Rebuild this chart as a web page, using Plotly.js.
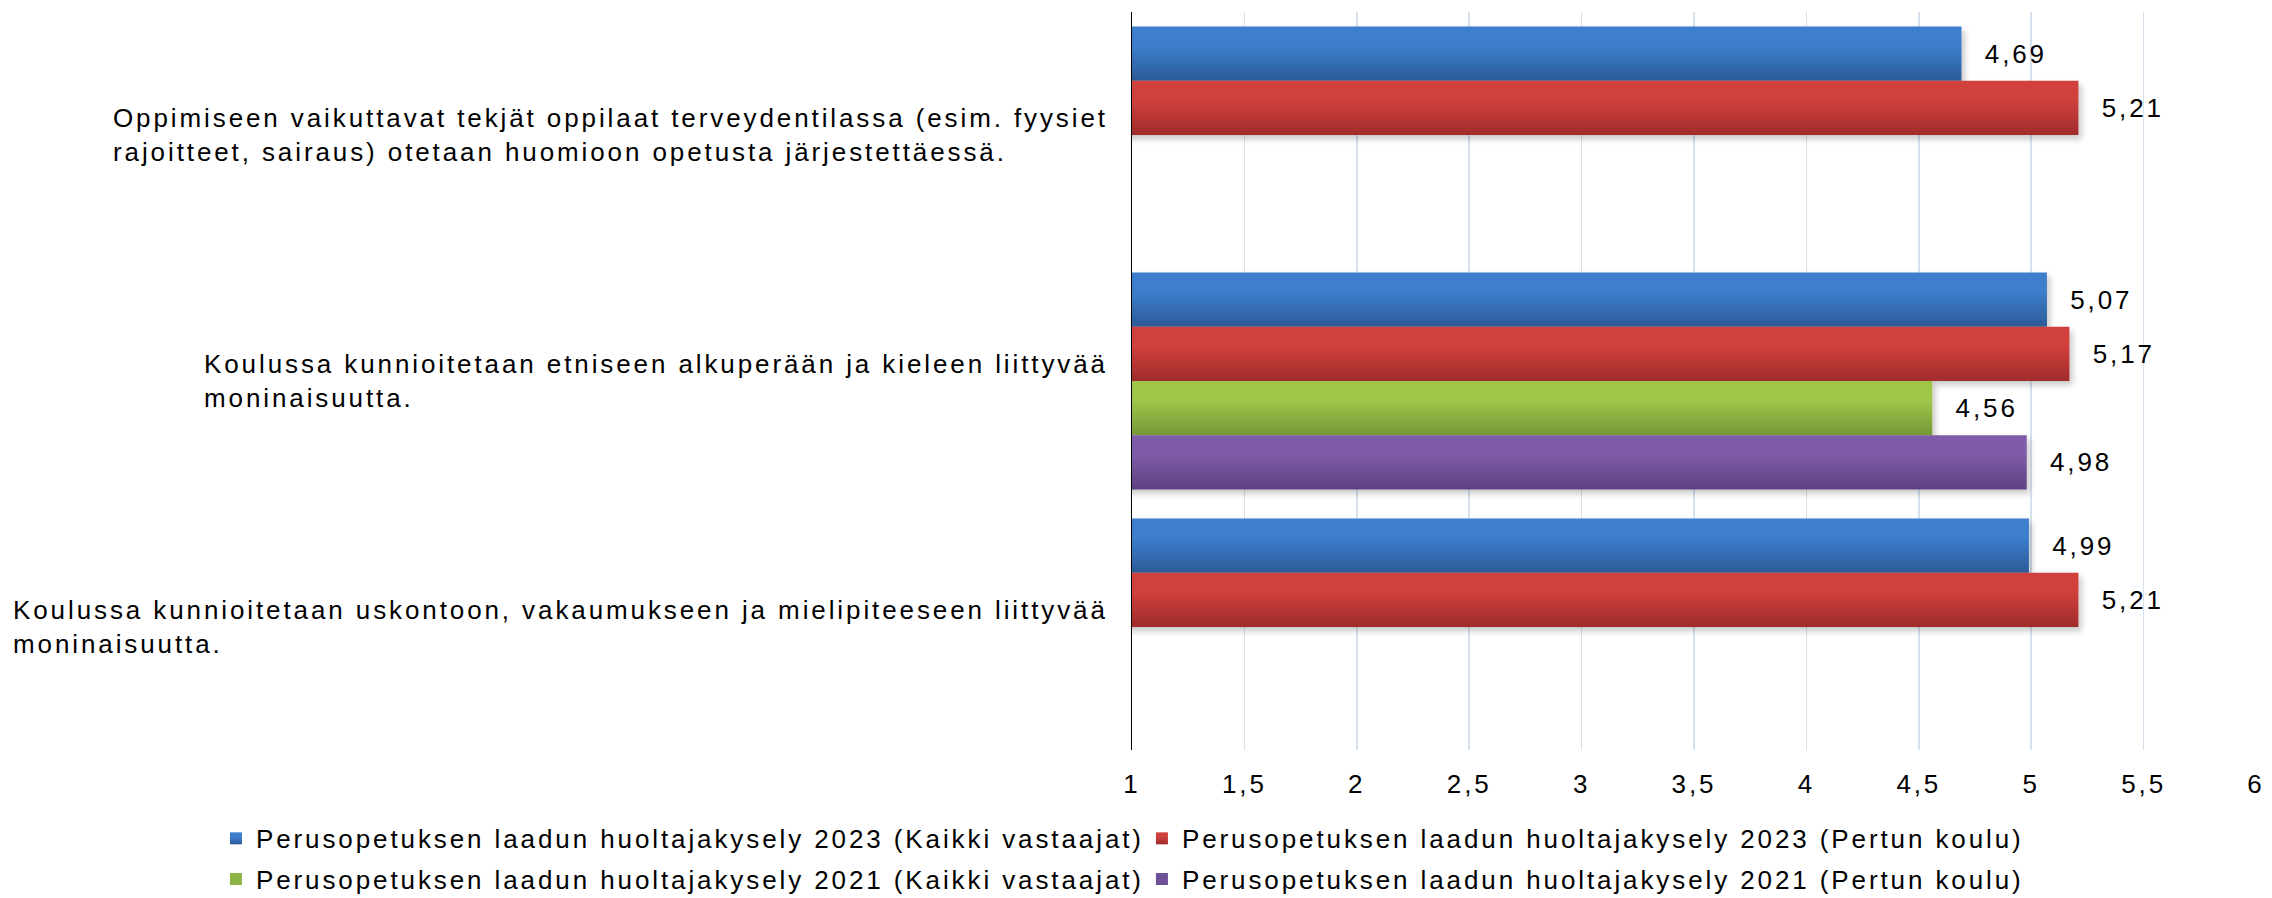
<!DOCTYPE html>
<html>
<head>
<meta charset="utf-8">
<script src="https://cdn.plot.ly/plotly-3.0.1.min.js"></script>
<style>
  html, body { margin: 0; padding: 0; background: #ffffff; }
  #chart { width: 2272px; height: 898px; }
  svg text { letter-spacing: 2.9px; }
</style>
</head>
<body>
<div id="chart"></div>
<script>
const categories = [
  "Oppimiseen vaikuttavat tekjät oppilaat terveydentilassa (esim. fyysiet<br>rajoitteet, sairaus) otetaan huomioon opetusta järjestettäessä.",
  "Koulussa kunnioitetaan etniseen alkuperään ja kieleen liittyvää<br>moninaisuutta.",
  "Koulussa kunnioitetaan uskontoon, vakaumukseen ja mielipiteeseen liittyvää<br>moninaisuutta."
];
const seriesNames = [
  "Perusopetuksen laadun huoltajakysely 2023 (Kaikki vastaajat)",
  "Perusopetuksen laadun huoltajakysely 2023 (Pertun koulu)",
  "Perusopetuksen laadun huoltajakysely 2021 (Kaikki vastaajat)",
  "Perusopetuksen laadun huoltajakysely 2021 (Pertun koulu)"
];
const kaikki2023 = [4.69, 5.07, 4.99];
const pertun2023 = [5.21, 5.17, 5.21];
const kaikki2021 = [null, 4.56, null];
const pertun2021 = [null, 4.98, null];
const xTickVals = [1, 1.5, 2, 2.5, 3, 3.5, 4, 4.5, 5, 5.5, 6];

const colors = ["#3569b0", "#bb3836", "#8db343", "#6f5197"];
const gradTop = ["#3c7ecd", "#d0403d", "#9fc64a", "#7f5ca9"];
const gradBottom = ["#2c5b98", "#9f2c2b", "#779837", "#5d4280"];
const values = [kaikki2023, pertun2023, kaikki2021, pertun2021];
const legendIds = ["legend", "legend", "legend2", "legend2"];

const FONT = "Liberation Sans, Arial, sans-serif";
const FS = 26;

const traces = values.map((v, i) => ({
  type: "bar",
  orientation: "h",
  name: seriesNames[i],
  x: v,
  y: categories,
  legend: legendIds[i],
  marker: { color: colors[i], line: { width: 0 } },
  texttemplate: "\u00a0\u00a0%{x:.2f}",
  textposition: "outside",
  cliponaxis: false,
  textfont: { family: FONT, size: FS, color: "#000000" },
  hoverinfo: "x+name"
}));

const annotations = categories.map(c => ({
  xref: "paper", yref: "y",
  x: -0.020, y: c,
  xanchor: "right", yanchor: "middle",
  align: "left",
  text: c,
  showarrow: false,
  font: { family: FONT, size: FS, color: "#000000" }
}));

const legendBase = {
  orientation: "h",
  x: -0.815, xanchor: "left",
  yanchor: "top",
  entrywidth: 881,
  entrywidthmode: "pixels",
  font: { family: FONT, size: FS, color: "#000000" },
  bgcolor: "rgba(0,0,0,0)",
  itemclick: false, itemdoubleclick: false
};

const layout = {
  width: 2272, height: 898,
  margin: { l: 1132, r: 16, t: 12, b: 148, autoexpand: false },
  paper_bgcolor: "#ffffff",
  plot_bgcolor: "#ffffff",
  separators: ", ",
  barmode: "group",
  bargap: 0.118,
  bargroupgap: 0,
  font: { family: FONT, size: FS, color: "#000000" },
  xaxis: {
    range: [1, 6],
    tickvals: xTickVals,
    tickformat: ".1~f",
    showgrid: true,
    gridcolor: "#d6e1ee",
    gridwidth: 1.5,
    zeroline: false,
    showline: false,
    ticks: "",
    ticklabelstandoff: 16,
    tickfont: { family: FONT, size: FS, color: "#000000" },
    fixedrange: true
  },
  yaxis: {
    type: "category",
    autorange: "reversed",
    showticklabels: false,
    showgrid: false,
    showline: true,
    linecolor: "#000000",
    linewidth: 1.5,
    ticks: "",
    zeroline: false,
    fixedrange: true
  },
  showlegend: true,
  legend: Object.assign({}, legendBase, { y: -0.088 }),
  legend2: Object.assign({}, legendBase, { y: -0.143 }),
  annotations: annotations
};

Plotly.newPlot("chart", traces, layout, { displayModeBar: false, staticPlot: true }).then(gd => {
  // vertical gradient + soft shadow on the bars, as in the reference
  const svg = gd.querySelector("svg.main-svg");
  const NS = "http://www.w3.org/2000/svg";
  let defs = svg.querySelector("defs");
  if (!defs) { defs = document.createElementNS(NS, "defs"); svg.insertBefore(defs, svg.firstChild); }
  const filt = document.createElementNS(NS, "filter");
  filt.setAttribute("id", "barShadow");
  filt.setAttribute("x", "-5%"); filt.setAttribute("y", "-20%");
  filt.setAttribute("width", "115%"); filt.setAttribute("height", "160%");
  const ds = document.createElementNS(NS, "feDropShadow");
  ds.setAttribute("dx", "3"); ds.setAttribute("dy", "4");
  ds.setAttribute("stdDeviation", "3");
  ds.setAttribute("flood-color", "#000000"); ds.setAttribute("flood-opacity", "0.22");
  filt.appendChild(ds);
  defs.appendChild(filt);
  colors.forEach((c, i) => {
    const g = document.createElementNS(NS, "linearGradient");
    g.setAttribute("id", "barGrad" + i);
    g.setAttribute("x1", "0"); g.setAttribute("y1", "0");
    g.setAttribute("x2", "0"); g.setAttribute("y2", "1");
    [[0, gradTop[i]], [0.35, gradTop[i]], [1, gradBottom[i]]].forEach(([o, col]) => {
      const s = document.createElementNS(NS, "stop");
      s.setAttribute("offset", o); s.setAttribute("stop-color", col);
      g.appendChild(s);
    });
    defs.appendChild(g);
  });
  gd.querySelectorAll(".barlayer .trace").forEach((tr, i) => {
    tr.querySelectorAll(".point path").forEach(p => {
      p.style.fill = "url(#barGrad" + i + ")";
      p.setAttribute("filter", "url(#barShadow)");
    });
  });
  gd.querySelectorAll(".legend .traces, [class^='legend'] .traces").forEach(t => {
    const txt = t.querySelector("text.legendtext");
    if (!txt) return;
    const idx = seriesNames.indexOf(txt.textContent);
    if (idx >= 0) t.querySelectorAll(".legendpoints path").forEach(p => { p.style.fill = "url(#barGrad" + idx + ")"; });
  });
});
</script>
</body>
</html>
